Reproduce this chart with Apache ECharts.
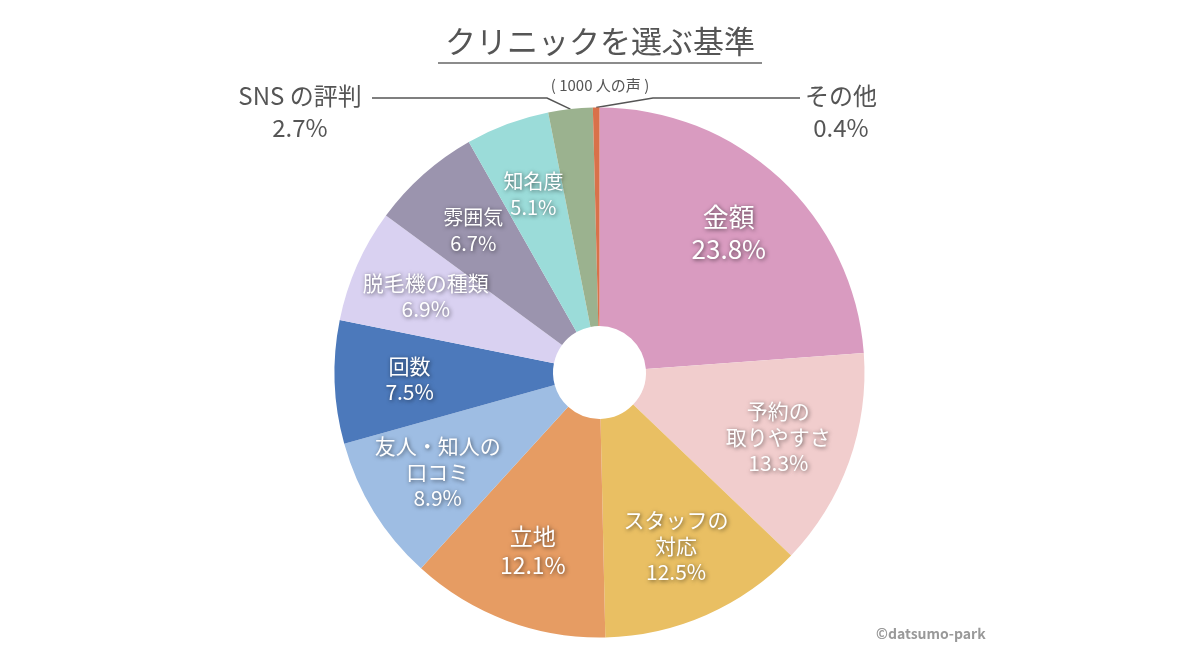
<!DOCTYPE html>
<html>
<head>
<meta charset="utf-8">
<script src="https://cdn.jsdelivr.net/npm/echarts@6/dist/echarts.min.js"></script>
<style>html,body{margin:0;padding:0;background:#fff;}#c{width:1200px;height:650px;}</style>
</head>
<body>
<div id="c"></div>
<script>
const categories = ['金額', '予約の\n取りやすさ', 'スタッフの\n対応', '立地', '友人・知人の\n口コミ', '回数', '脱毛機の種類', '雰囲気', '知名度', 'SNS の評判', 'その他'];
const values = [23.8, 13.3, 12.5, 12.1, 8.9, 7.5, 6.9, 6.7, 5.1, 2.7, 0.4];
const colors = ['#d99bc0', '#f1cdcd', '#e9bf63', '#e69c63', '#9ebde3', '#4c79bb', '#d9d1f1', '#9b94ae', '#9bdcd9', '#9bb28f', '#d9714a'];
const outsideNames = ['SNS の評判', 'その他'];
const titleText = 'クリニックを選ぶ基準';
const subText = '( 1000 人の声 )';
const credit = '©datsumo-park';

const FONT = '"Noto Sans CJK JP", "Noto Sans", sans-serif';
const insideFont = {'金額': [26, 32], '立地': [23, 29], '雰囲気': [20, 26], '知名度': [20, 26]};

const mainData = categories.map((n, i) => {
  const out = outsideNames.indexOf(n) >= 0;
  return {
    name: n, value: values[i],
    itemStyle: {color: colors[i]},
    label: {show: out},
    labelLine: {show: out}
  };
});
// labels on two transparent helper rings so neighbouring labels are not hidden
function ghostData(group) {
  return categories.map((n, i) => {
    const out = outsideNames.indexOf(n) >= 0;
    const f = insideFont[n] || [21, 26];
    const g = (i % 2 === 0) ? 0 : 1;
    return {
      name: n, value: values[i],
      label: {show: !out && g === group, fontSize: f[0], lineHeight: f[1]}
    };
  });
}
function ghostSeries(group) {
  return {
    type: 'pie',
    silent: true,
    center: [599.5, 372.5],
    radius: [0, 374],
    startAngle: 90,
    clockwise: true,
    avoidLabelOverlap: false,
    itemStyle: {color: 'transparent'},
    data: ghostData(group),
    label: {
      position: 'inside',
      formatter: p => p.name + '\n' + p.value.toFixed(1) + '%',
      fontFamily: FONT, color: '#fff',
      textShadowColor: 'rgba(0,0,0,0.6)', textShadowBlur: 4, textShadowOffsetX: 1, textShadowOffsetY: 1
    },
    labelLayout: {hideOverlap: false},
    labelLine: {show: false}
  };
}

const chart = echarts.init(document.getElementById('c'));
chart.setOption({
  animation: false,
  backgroundColor: '#fff',
  title: [
    {text: titleText, left: 'center', top: 21, textStyle: {fontFamily: FONT, fontSize: 31, fontWeight: 'normal', color: '#555'}},
    {text: subText, left: 'center', top: 73, textStyle: {fontFamily: FONT, fontSize: 15, fontWeight: 'normal', color: '#555'}},
    {text: credit, left: 871, top: 622, textStyle: {fontFamily: FONT, fontSize: 14, fontWeight: 'bold', color: '#999'}}
  ],
  graphic: [
    {type: 'line', shape: {x1: 438, y1: 63, x2: 762, y2: 63}, style: {stroke: '#666', lineWidth: 1.5}}
  ],
  series: [
    {
      type: 'pie',
      silent: true,
      center: [599.5, 372.5],
      radius: [46.5, 265],
      startAngle: 90,
      clockwise: true,
      avoidLabelOverlap: false,
      data: mainData,
      label: {
        position: 'outside',
        formatter: p => p.name + '\n' + p.value.toFixed(1) + '%',
        fontFamily: FONT, fontSize: 24, lineHeight: 32, color: '#555'
      },
      labelLine: {length: 12, length2: 190, lineStyle: {color: '#555', width: 1.5}},
      labelLayout: function (params) {
        const name = categories[params.dataIndex];
        const pts = params.labelLinePoints;
        const start = pts ? pts[0] : null;
        if (name === 'SNS の評判') {
          return {x: 300, y: 112, align: 'center', verticalAlign: 'middle',
            labelLinePoints: [start, [547, 98], [372, 98]]};
        }
        if (name === 'その他') {
          return {x: 841, y: 112, align: 'center', verticalAlign: 'middle',
            labelLinePoints: [start, [653, 98], [800, 98]]};
        }
      }
    },
    ghostSeries(0),
    ghostSeries(1)
  ]
});
</script>
</body>
</html>
